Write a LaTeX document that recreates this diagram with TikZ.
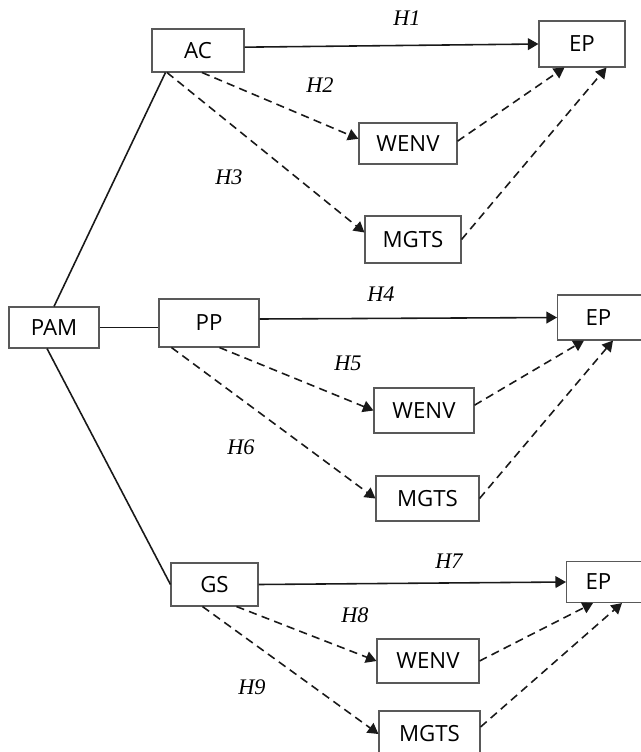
\documentclass[tikz,border=0pt]{standalone}
\usepackage{fontspec}
\setmainfont{Liberation Serif}
\setsansfont{Open Sans}
\usetikzlibrary{arrows.meta, positioning}

\begin{document}
\begin{tikzpicture}[
    x=0.03cm, y=-0.03cm,
    box/.style={draw=black!65, line width=0.9pt, minimum height=1.32cm,
                inner sep=0pt, font=\fontsize{19}{22}\selectfont\sffamily},
    link/.style={line width=1.35pt, black!90},
    arr/.style={-{Triangle[length=9pt, width=10pt]}, line width=1.35pt, black!90},
    darr/.style={arr, dash pattern=on 7pt off 4.5pt},
    hyp/.style={font=\fontsize{19}{22}\selectfont\itshape}
  ]
    \useasboundingbox (0,0) rectangle (641,752);

    % first level
    \node[box, minimum width=2.7cm, minimum height=1.23cm] (pam) at (54,327.5) {PAM};
    \node[box, minimum width=2.76cm, minimum height=1.29cm] (ac) at (198,50.5) {AC};
    \node[box, minimum width=3.0cm, minimum height=1.44cm] (pp) at (209,323) {PP};
    \node[box, minimum width=2.61cm, minimum height=1.29cm] (gs) at (214.5,584.5) {GS};

    % AC branch
    \node[box, minimum width=2.58cm, minimum height=1.38cm] (epA) at (582,44) {EP};
    \node[box, minimum width=2.94cm, minimum height=1.23cm] (wenvA) at (408,143.5) {WENV};
    \node[box, minimum width=2.88cm, minimum height=1.41cm] (mgtsA) at (413,239.5) {MGTS};

    % PP branch
    \node[box, anchor=west, minimum height=1.35cm, text width=1.4cm,
          align=left, inner xsep=0.84cm] (epB) at (557,317.5) {EP};
    \node[box, minimum width=3.0cm, minimum height=1.35cm] (wenvB) at (424,410.5) {WENV};
    \node[box, minimum width=3.09cm, minimum height=1.35cm] (mgtsB) at (427.5,498.5) {MGTS};

    % GS branch
    \node[box, anchor=west, minimum height=1.23cm, text width=1.6cm,
          align=left, inner xsep=0.57cm] (epC) at (566,582) {EP};
    \node[box, minimum width=3.06cm, minimum height=1.32cm] (wenvC) at (428,661) {WENV};
    \node[box, minimum width=3.03cm, minimum height=1.38cm] (mgtsC) at (429.5,734) {MGTS};

    % PAM links
    \draw[link] (pam.north) -- ([xshift=0.42cm]ac.south west);
    \draw[link] (pam.east) -- (pam.east -| pp.west);
    \draw[link] ([xshift=-0.21cm]pam.south) -- (gs.west);

    % AC paths
    \draw[arr] ([yshift=0.1cm]ac.east) -- (epA.west);
    \draw[darr] ([xshift=0.12cm]ac.south) -- ([yshift=0.14cm]wenvA.west);
    \draw[darr] ([xshift=-0.93cm]ac.south) -- ([yshift=0.21cm]mgtsA.west);
    \draw[darr] ([yshift=0.07cm]wenvA.east) -- ([xshift=0.78cm]epA.south west);
    \draw[darr] (mgtsA.east) -- ([xshift=2.04cm]epA.south west);

    % PP paths
    \draw[arr] ([yshift=0.12cm]pp.east) -- (epB.west);
    \draw[darr] ([xshift=1.83cm]pp.south west) -- (wenvB.west);
    \draw[darr] ([xshift=0.39cm]pp.south west) -- (mgtsB.west);
    \draw[darr] ([yshift=0.16cm]wenvB.east) -- ([xshift=0.81cm]epB.south west);
    \draw[darr] (mgtsB.east) -- ([xshift=1.68cm]epB.south west);

    % GS paths
    \draw[arr] (gs.east) -- (epC.west);
    \draw[darr] ([xshift=1.98cm]gs.south west) -- (wenvC.west);
    \draw[darr] ([xshift=0.96cm]gs.south west) -- (mgtsC.west);
    \draw[darr] (wenvC.east) -- ([xshift=0.81cm]epC.south west);
    \draw[darr] ([yshift=0.21cm]mgtsC.east) -- ([xshift=1.68cm]epC.south west);

    % hypotheses
    \node[hyp] (h1) at (407,18) {H1};
    \node[hyp] (h2) at (320,85) {H2};
    \node[hyp] (h3) at (229,177) {H3};
    \node[hyp] (h4) at (381,294) {H4};
    \node[hyp] (h5) at (348,363) {H5};
    \node[hyp] (h6) at (241,447) {H6};
    \node[hyp] (h7) at (449,561) {H7};
    \node[hyp] (h8) at (355,615) {H8};
    \node[hyp] (h9) at (252,687) {H9};
  \end{tikzpicture}
\end{document}
